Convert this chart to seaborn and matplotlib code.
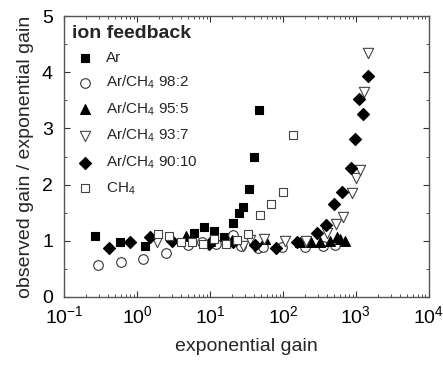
import numpy as np
import pandas as pd
import matplotlib
matplotlib.use("Agg")
import matplotlib.pyplot as plt
import seaborn as sns
from matplotlib.ticker import LogLocator, MultipleLocator, NullFormatter

# ---- data ----
ar_x = [0.27, 0.585, 1.29, 6.1, 8.35, 11.3, 15.7, 20.9, 24.9, 28.6, 33.9, 40.1, 46.9]
ar_y = [1.08, 0.98, 0.90, 1.13, 1.25, 1.18, 1.07, 1.31, 1.49, 1.60, 1.92, 2.50, 3.33]

m98_x = [0.29, 0.60, 1.22, 2.5, 5.0, 7.7, 12, 21, 27, 46, 54, 96, 200, 350, 520]
m98_y = [0.56, 0.62, 0.68, 0.78, 0.92, 0.98, 0.95, 1.10, 0.90, 0.87, 0.88, 0.88, 0.88, 0.90, 0.93]

m95_x = [4.7, 10, 20, 57, 170, 246, 321, 436, 543, 603, 705]
m95_y = [1.08, 1.00, 1.02, 1.04, 0.97, 0.98, 0.97, 0.99, 1.07, 1.03, 0.99]

m93_x = [1.9, 28.6, 35, 55, 107, 206, 405, 532, 670, 880, 1000, 1135, 1288, 1473]
m93_y = [0.97, 0.90, 1.01, 1.04, 1.00, 1.00, 1.13, 1.29, 1.43, 1.85, 2.11, 2.26, 3.65, 4.35]

m90_x = [0.41, 0.79, 1.5, 3.0, 9.8, 20.9, 41, 80, 157, 295, 388, 505, 650, 845, 968, 1110, 1260, 1473]
m90_y = [0.87, 0.97, 1.06, 1.00, 0.95, 0.98, 0.93, 0.87, 0.97, 1.14, 1.28, 1.65, 1.87, 2.29, 2.82, 3.53, 3.25, 3.93]

ch4_x = [1.92, 2.74, 3.96, 5.6, 7.95, 11.3, 16.4, 23.2, 33.5, 48.4, 68.5, 98.9, 137]
ch4_y = [1.12, 1.09, 0.97, 0.98, 0.94, 1.04, 0.95, 1.01, 1.12, 1.45, 1.65, 1.86, 2.88]

labels = ["Ar", "Ar/CH$_4$ 98:2", "Ar/CH$_4$ 95:5", "Ar/CH$_4$ 93:7",
          "Ar/CH$_4$ 90:10", "CH$_4$"]

sns.set_theme(style="white")
plt.rcParams['font.family'] = ['Liberation Sans', 'DejaVu Sans']
plt.rcParams['mathtext.fontset'] = 'custom'
plt.rcParams['mathtext.rm'] = 'Liberation Sans'
plt.rcParams['mathtext.it'] = 'Liberation Sans'
plt.rcParams['axes.unicode_minus'] = False

fig = plt.figure(figsize=(4.43, 3.67), dpi=100)
ax = fig.add_axes([0.1445, 0.191, 0.8235, 0.765])

series = [
    (ar_x, ar_y, "s", "black", "black", 40),
    (m98_x, m98_y, "o", "white", "#333333", 48),
    (m95_x, m95_y, "^", "black", "black", 50),
    (m93_x, m93_y, "v", "white", "#444444", 55),
    (m90_x, m90_y, "D", "black", "black", 38),
    (ch4_x, ch4_y, "s", "white", "#444444", 40),
]
for (xs, ys, mk, fc, ec, sz), lab in zip(series, labels):
    df = pd.DataFrame({"x": xs, "y": ys})
    sns.scatterplot(data=df, x="x", y="y", marker=mk, s=sz, facecolor=fc,
                    edgecolor=ec, linewidth=0.8, ax=ax, label=lab, zorder=3)

ax.set_xscale("log")
ax.set_xlim(0.1, 1e4)
ax.set_ylim(0, 5)
ax.xaxis.set_major_locator(LogLocator(base=10, numticks=10))
ax.xaxis.set_minor_locator(LogLocator(base=10, subs=np.arange(2, 10), numticks=20))
ax.xaxis.set_minor_formatter(NullFormatter())
ax.yaxis.set_major_locator(MultipleLocator(1))
ax.yaxis.set_minor_locator(MultipleLocator(0.5))
ax.tick_params(which="both", direction="in", top=True, right=True,
               bottom=True, left=True, colors="#333333", labelcolor="black",
               labelsize=14)
ax.tick_params(axis="y", pad=8)
ax.tick_params(axis="x", pad=6)
ax.tick_params(which="major", length=4, width=0.8)
ax.tick_params(which="minor", length=2.5, width=0.6)
for sp in ax.spines.values():
    sp.set_color("#555555")
    sp.set_linewidth(1.0)

ax.set_xlabel("exponential gain", fontsize=14, labelpad=8)
ax.set_ylabel("observed gain / exponential gain", fontsize=14, labelpad=6)

leg = ax.legend(loc="upper left", frameon=False, title="ion feedback",
                fontsize=11, handletextpad=0.6, labelspacing=0.6,
                borderaxespad=0.1, handlelength=1.6, borderpad=0.45)
leg.get_title().set_fontsize(14)
leg.get_title().set_fontweight("bold")
leg._legend_box.align = "left"

fig.savefig("out.png", dpi=100)
